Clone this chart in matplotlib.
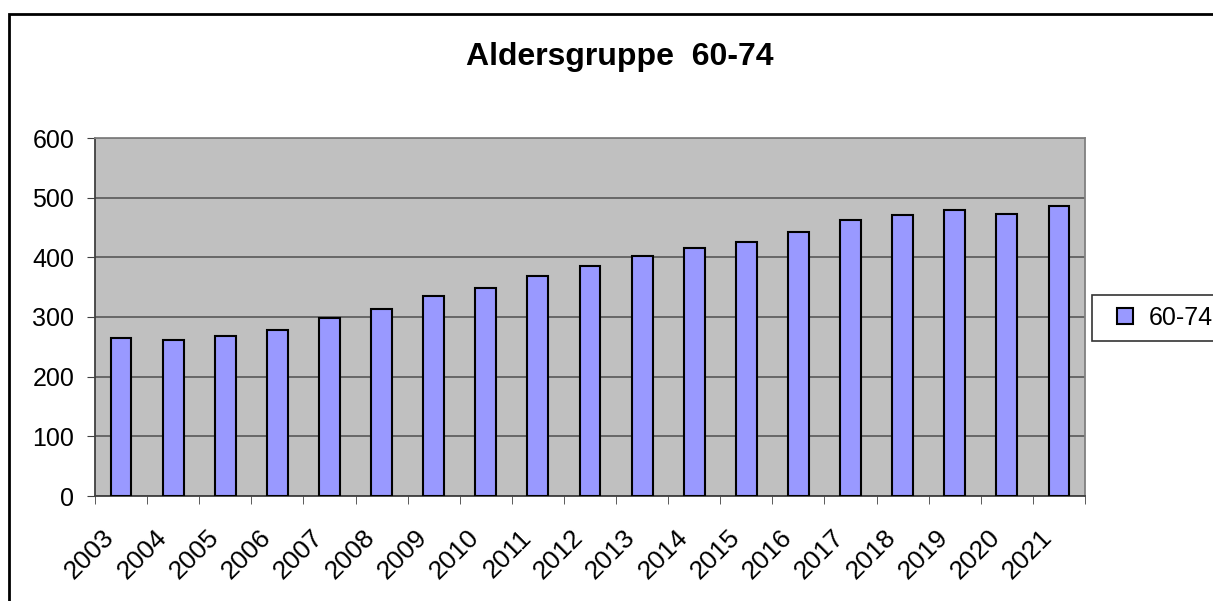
import numpy as np
import matplotlib.pyplot as plt
from matplotlib.patches import Rectangle
from matplotlib.lines import Line2D
from matplotlib.transforms import ScaledTranslation

# data
years = ["2003", "2004", "2005", "2006", "2007", "2008", "2009", "2010", "2011", "2012",
         "2013", "2014", "2015", "2016", "2017", "2018", "2019", "2020", "2021"]
values = [265, 261, 268, 278, 298, 313, 335, 349, 369, 385,
          402, 416, 426, 442, 463, 471, 479, 473, 486]
series_name = "60-74"
title = "Aldersgruppe  60-74"

plt.rcParams['font.family'] = ['Liberation Sans', 'DejaVu Sans']

fig = plt.figure(figsize=(12.13, 6.01), dpi=100)
ax = fig.add_axes([95 / 1213, 105 / 601, 990 / 1213, 358 / 601])

# outer chart border
fig.patches.append(Rectangle((9 / 1213, -0.05), 1.1, (601 - 14) / 601 + 0.05,
                             transform=fig.transFigure, fill=False,
                             edgecolor='black', linewidth=2, clip_on=False))

x = np.arange(len(years))
ax.set_facecolor('#c0c0c0')
ax.bar(x, values, width=0.4, color='#9999ff', edgecolor='black', linewidth=1.5,
       zorder=3)

ax.set_xlim(-0.5, len(years) - 0.5)
ax.set_ylim(0, 600)
ax.set_yticks(np.arange(0, 601, 100))
ax.yaxis.grid(True, color='#606060', linewidth=1.3, zorder=1)
ax.set_axisbelow(True)

ax.set_xticks(x)
ax.set_xticklabels(years, rotation=45, ha='right', rotation_mode='anchor', fontsize=19)
ax.set_xticks(np.arange(-0.5, len(years)), minor=True)
ax.tick_params(axis='x', which='major', length=0, pad=21)
ax.tick_params(axis='x', which='minor', length=6, color='#404040', direction='out')
ax.tick_params(axis='y', length=6, color='#404040', labelsize=18, pad=9)
shift = ScaledTranslation(-19 / 100, 0, fig.dpi_scale_trans)
for lbl in ax.get_xticklabels():
    lbl.set_transform(lbl.get_transform() + shift)

for side in ['left', 'bottom']:
    ax.spines[side].set_color('#404040')
    ax.spines[side].set_linewidth(1.3)
for side in ['top', 'right']:
    ax.spines[side].set_color('#808080')
    ax.spines[side].set_linewidth(1.3)

fig.text(620 / 1213, 1 - 57 / 601, title, ha='center', va='center',
         fontsize=23, fontweight='bold')

handle = Line2D([], [], linestyle='none', marker='s', markersize=11.5,
                markerfacecolor='#9999ff', markeredgecolor='black', markeredgewidth=1.5)
leg = ax.legend([handle], [series_name], loc='center left', bbox_to_anchor=(1.007, 0.497),
                fontsize=18, frameon=True, fancybox=False, edgecolor='black',
                handlelength=1.76, handletextpad=0.05, borderpad=0.45, borderaxespad=0)
leg.get_frame().set_linewidth(1.2)

fig.savefig('out.png', dpi=100, facecolor='white')
